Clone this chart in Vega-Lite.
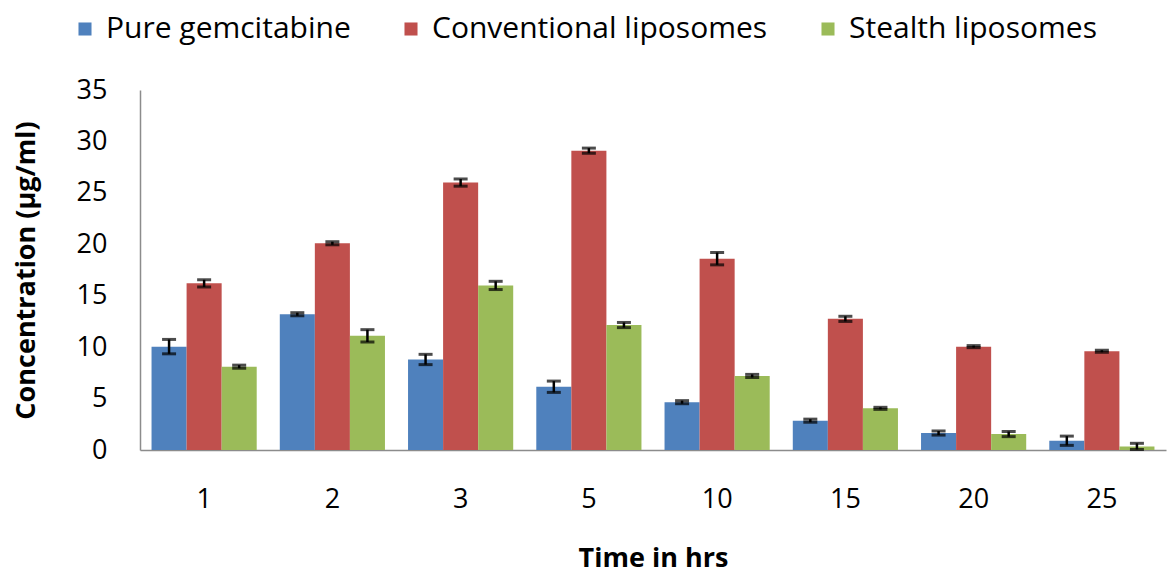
{
  "$schema": "https://vega.github.io/schema/vega-lite/v6.json",
  "width": 1026,
  "height": 360,
  "autosize": {"type": "none"},
  "padding": {"left": 140, "top": 90, "right": 1, "bottom": 126},
  "background": "white",
  "config": {"view": {"stroke": null}, "font": "Open Sans"},
  "data": {
    "values": [
      {"time": 1, "series": "Pure gemcitabine", "value": 10.05, "lo": 9.35, "hi": 10.75},
      {"time": 1, "series": "Conventional liposomes", "value": 16.2, "lo": 15.85, "hi": 16.55},
      {"time": 1, "series": "Stealth liposomes", "value": 8.1, "lo": 7.95, "hi": 8.25},
      {"time": 2, "series": "Pure gemcitabine", "value": 13.2, "lo": 13.05, "hi": 13.35},
      {"time": 2, "series": "Conventional liposomes", "value": 20.1, "lo": 19.95, "hi": 20.25},
      {"time": 2, "series": "Stealth liposomes", "value": 11.1, "lo": 10.5, "hi": 11.7},
      {"time": 3, "series": "Pure gemcitabine", "value": 8.8, "lo": 8.3, "hi": 9.3},
      {"time": 3, "series": "Conventional liposomes", "value": 26.0, "lo": 25.65, "hi": 26.35},
      {"time": 3, "series": "Stealth liposomes", "value": 16.0, "lo": 15.6, "hi": 16.4},
      {"time": 5, "series": "Pure gemcitabine", "value": 6.15, "lo": 5.6, "hi": 6.7},
      {"time": 5, "series": "Conventional liposomes", "value": 29.1, "lo": 28.85, "hi": 29.35},
      {"time": 5, "series": "Stealth liposomes", "value": 12.15, "lo": 11.9, "hi": 12.4},
      {"time": 10, "series": "Pure gemcitabine", "value": 4.65, "lo": 4.5, "hi": 4.8},
      {"time": 10, "series": "Conventional liposomes", "value": 18.6, "lo": 18.0, "hi": 19.2},
      {"time": 10, "series": "Stealth liposomes", "value": 7.2, "lo": 7.05, "hi": 7.35},
      {"time": 15, "series": "Pure gemcitabine", "value": 2.85, "lo": 2.7, "hi": 3.0},
      {"time": 15, "series": "Conventional liposomes", "value": 12.75, "lo": 12.5, "hi": 13.0},
      {"time": 15, "series": "Stealth liposomes", "value": 4.05, "lo": 3.95, "hi": 4.15},
      {"time": 20, "series": "Pure gemcitabine", "value": 1.65, "lo": 1.45, "hi": 1.85},
      {"time": 20, "series": "Conventional liposomes", "value": 10.05, "lo": 9.95, "hi": 10.15},
      {"time": 20, "series": "Stealth liposomes", "value": 1.55, "lo": 1.3, "hi": 1.8},
      {"time": 25, "series": "Pure gemcitabine", "value": 0.9, "lo": 0.45, "hi": 1.35},
      {"time": 25, "series": "Conventional liposomes", "value": 9.6, "lo": 9.5, "hi": 9.7},
      {"time": 25, "series": "Stealth liposomes", "value": 0.35, "lo": 0.05, "hi": 0.65}
    ]
  },
  "encoding": {
    "x": {
      "field": "time",
      "type": "ordinal",
      "scale": {"paddingInner": 0.18, "paddingOuter": 0.09},
      "axis": {
        "title": "Time in hrs",
        "titleFont": "Open Sans",
        "titleFontSize": 27,
        "titleFontWeight": "bold",
        "titleColor": "#000000",
        "titlePadding": 33,
        "labelAngle": 0,
        "labelFont": "Open Sans",
        "labelFontSize": 27,
        "labelColor": "#000000",
        "labelPadding": 36,
        "ticks": false,
        "domainColor": "#8c8c8c",
        "domainWidth": 1.5,
        "grid": false
      }
    },
    "xOffset": {
      "field": "series",
      "type": "nominal",
      "sort": ["Pure gemcitabine", "Conventional liposomes", "Stealth liposomes"],
      "scale": {"paddingInner": 0, "paddingOuter": 0}
    }
  },
  "layer": [
    {
      "mark": {"type": "bar"},
      "encoding": {
        "y": {
          "field": "value",
          "type": "quantitative",
          "scale": {"domain": [0, 35]},
          "axis": {
            "title": "Concentration (µg/ml)",
            "titleFont": "Open Sans",
            "titleFontSize": 27,
            "titleFontWeight": "bold",
            "titleColor": "#000000",
            "titlePadding": 36,
            "values": [0, 5, 10, 15, 20, 25, 30, 35],
            "labelFont": "Open Sans",
            "labelFontSize": 27,
            "labelColor": "#000000",
            "labelPadding": 33,
            "ticks": false,
            "domainColor": "#8c8c8c",
            "domainWidth": 1.5,
            "grid": false
          }
        },
        "color": {
          "field": "series",
          "type": "nominal",
          "sort": ["Pure gemcitabine", "Conventional liposomes", "Stealth liposomes"],
          "scale": {
            "domain": ["Pure gemcitabine", "Conventional liposomes", "Stealth liposomes"],
            "range": ["#4F81BD", "#C0504D", "#9BBB59"]
          },
          "legend": {
            "title": null,
            "orient": "none",
            "direction": "horizontal",
            "legendX": -70,
            "legendY": -76,
            "symbolType": "square",
            "symbolSize": 170,
            "symbolStrokeWidth": 0,
            "labelFont": "Open Sans",
            "labelFontSize": 30,
            "labelColor": "#000000",
            "labelOffset": 6,
            "columnPadding": 45,
            "labelLimit": 500
          }
        }
      }
    },
    {
      "mark": {"type": "rule", "color": "#000000", "strokeWidth": 2.5},
      "encoding": {
        "y": {"field": "lo", "type": "quantitative"},
        "y2": {"field": "hi"}
      }
    },
    {
      "mark": {"type": "tick", "color": "#000000", "thickness": 3, "size": 14},
      "encoding": {
        "y": {"field": "lo", "type": "quantitative"}
      }
    },
    {
      "mark": {"type": "tick", "color": "#000000", "thickness": 3, "size": 14},
      "encoding": {
        "y": {"field": "hi", "type": "quantitative"}
      }
    }
  ]
}
